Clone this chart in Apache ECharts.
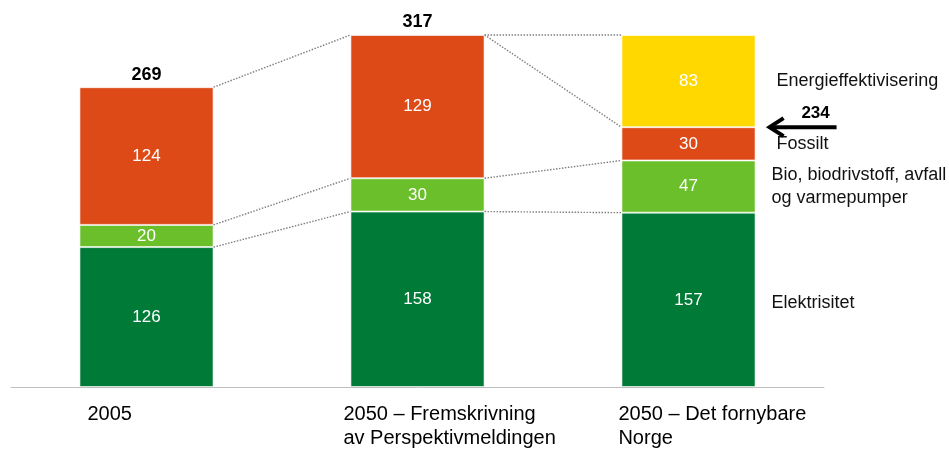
<!DOCTYPE html>
<html>
<head>
<meta charset="utf-8">
<title>Energibruk</title>
<script src="https://cdn.jsdelivr.net/npm/echarts@6/dist/echarts.min.js"></script>
<style>
  html, body { margin: 0; padding: 0; background: #ffffff; }
  #chart { width: 949px; height: 452px; }
</style>
</head>
<body>
<div id="chart"></div>
<script>
// Categories and stacked segment values (TWh)
const categories = ['2005', '2050 – Fremskrivning\nav Perspektivmeldingen', '2050 – Det fornybare\nNorge'];
const elektrisitet = [126, 158, 157];
const bio = [20, 30, 47];
const fossilt = [124, 129, 30];
const energieffektivisering = ['-', '-', 83];
// Totals printed above the first two columns
const totals = [269, 317];
const seriesNames = ['Elektrisitet', 'Bio, biodrivstoff, avfall\nog varmepumper', 'Fossilt', 'Energieffektivisering'];

const FONT = '"Liberation Sans", Arial, sans-serif';
const BAR_FRAC = 0.495;
const stackArrays = [elektrisitet, bio, fossilt, energieffektivisering];

// Cumulative stack boundaries for each column
const levels = categories.map((_, i) => {
  const out = [];
  let s = 0;
  stackArrays.forEach(arr => {
    const v = arr[i];
    if (typeof v === 'number') { s += v; out.push(s); }
  });
  return out;
});

// Which boundary of column i joins which boundary of column i+1
const links = [[0, 0, 0], [0, 1, 1], [0, 2, 2], [1, 0, 0], [1, 1, 1], [1, 2, 2], [1, 2, 3]];
const connectorData = links.map(([c, a, b]) => [c, levels[c][a], levels[c + 1][b]]);

// Names of the segments, written beside the last column at each segment's middle
const last = categories.length - 1;
const sideData = [];
stackArrays.forEach((arr, k) => {
  const v = arr[last];
  if (typeof v === 'number') sideData.push([last, levels[last][sideData.length] - v / 2, k]);
});
const sideDx = [16, 16, 21, 21];

// Value reached without the efficiency segment (arrow marker)
const withoutEfficiency = elektrisitet[last] + bio[last] + fossilt[last];

const catDx = [8, -7, -3];

const colors = ['#007A37', '#6ABF2A', '#DE4A17', '#FFD800'];

function barSeries(name, data, color) {
  return {
    name: name,
    type: 'bar',
    stack: 'total',
    data: data,
    barWidth: (BAR_FRAC * 100) + '%',
    itemStyle: { color: color, borderColor: 'rgba(255,255,255,0.6)', borderWidth: 1 },
    label: {
      show: true,
      position: 'inside',
      color: '#ffffff',
      fontSize: 17,
      fontFamily: FONT
    }
  };
}

const chart = echarts.init(document.getElementById('chart'), null, { renderer: 'canvas' });

chart.setOption({
  animation: false,
  backgroundColor: '#ffffff',
  grid: { left: 11, right: 125, top: 35, bottom: 65 },
  xAxis: {
    type: 'category',
    data: categories,
    axisLine: { show: true, lineStyle: { color: '#bfbfbf', width: 1 } },
    axisTick: { show: false },
    axisLabel: { show: false },
    splitLine: { show: false }
  },
  yAxis: {
    type: 'value',
    min: 0,
    max: 317,
    show: false,
    splitLine: { show: false }
  },
  series: [
    barSeries(seriesNames[0], elektrisitet, colors[0]),
    barSeries(seriesNames[1], bio, colors[1]),
    barSeries(seriesNames[2], fossilt, colors[2]),
    barSeries(seriesNames[3], energieffektivisering, colors[3]),
    {
      // dotted links between the stack boundaries of neighbouring columns
      type: 'custom',
      data: connectorData,
      encode: { x: 0, y: [1, 2] },
      z: 1,
      silent: true,
      renderItem: function (params, api) {
        const c = api.value(0);
        const p1 = api.coord([c, api.value(1)]);
        const p2 = api.coord([c + 1, api.value(2)]);
        const half = api.size([1, 0])[0] * BAR_FRAC / 2;
        return {
          type: 'line',
          shape: { x1: p1[0] + half, y1: p1[1], x2: p2[0] - half, y2: p2[1] },
          style: { stroke: '#7f7f7f', lineWidth: 1.4, lineDash: [1.5, 1.5] }
        };
      }
    },
    {
      // column totals
      type: 'custom',
      data: totals.map((t, i) => [i, t]),
      encode: { x: 0, y: 1 },
      silent: true,
      renderItem: function (params, api) {
        const p = api.coord([api.value(0), api.value(1)]);
        return {
          type: 'text',
          style: {
            text: String(api.value(1)),
            x: p[0], y: p[1] - 13,
            align: 'center', verticalAlign: 'middle',
            fill: '#000000', fontSize: 18, fontWeight: 'bold', fontFamily: FONT
          }
        };
      }
    },
    {
      // segment names beside the last column
      type: 'custom',
      data: sideData,
      encode: { x: 0, y: 1 },
      silent: true,
      renderItem: function (params, api) {
        const p = api.coord([api.value(0), api.value(1)]);
        const half = api.size([1, 0])[0] * BAR_FRAC / 2;
        const k = api.value(2);
        return {
          type: 'text',
          style: {
            text: seriesNames[k],
            x: p[0] + half + sideDx[k], y: p[1] + (k === 0 ? 3 : 0),
            align: 'left', verticalAlign: 'middle',
            fill: '#111111', fontSize: 18, lineHeight: 23, fontFamily: FONT
          }
        };
      }
    },
    {
      // arrow marking the level without efficiency gains
      type: 'custom',
      data: [[last, withoutEfficiency]],
      encode: { x: 0, y: 1 },
      silent: true,
      renderItem: function (params, api) {
        const p = api.coord([api.value(0), api.value(1)]);
        const half = api.size([1, 0])[0] * BAR_FRAC / 2;
        const x1 = p[0] + half + 14;
        const x2 = p[0] + half + 81;
        const y = p[1];
        return {
          type: 'group',
          children: [
            {
              type: 'line',
              shape: { x1: x1 + 2, y1: y, x2: x2, y2: y },
              style: { stroke: '#000000', lineWidth: 4 }
            },
            {
              type: 'polyline',
              shape: { points: [[x1 + 14, y - 9], [x1, y], [x1 + 14, y + 9]] },
              style: { stroke: '#000000', lineWidth: 4, fill: null, lineJoin: 'miter' }
            },
            {
              type: 'text',
              style: {
                text: String(api.value(1)),
                x: x1 + 46, y: y - 14,
                align: 'center', verticalAlign: 'middle',
                fill: '#000000', fontSize: 17, fontWeight: 'bold', fontFamily: FONT
              }
            }
          ]
        };
      }
    },
    {
      // category names under the axis, starting near each column's left edge
      type: 'custom',
      data: categories.map((_, i) => [i, 0]),
      encode: { x: 0, y: 1 },
      silent: true,
      renderItem: function (params, api) {
        const i = api.value(0);
        const p = api.coord([i, 0]);
        const half = api.size([1, 0])[0] * BAR_FRAC / 2;
        return {
          type: 'text',
          style: {
            text: categories[i],
            x: p[0] - half + catDx[i], y: p[1] + 15,
            align: 'left', verticalAlign: 'top',
            fill: '#000000', fontSize: 20, lineHeight: 24, fontFamily: FONT
          }
        };
      }
    }
  ]
});
</script>
</body>
</html>
